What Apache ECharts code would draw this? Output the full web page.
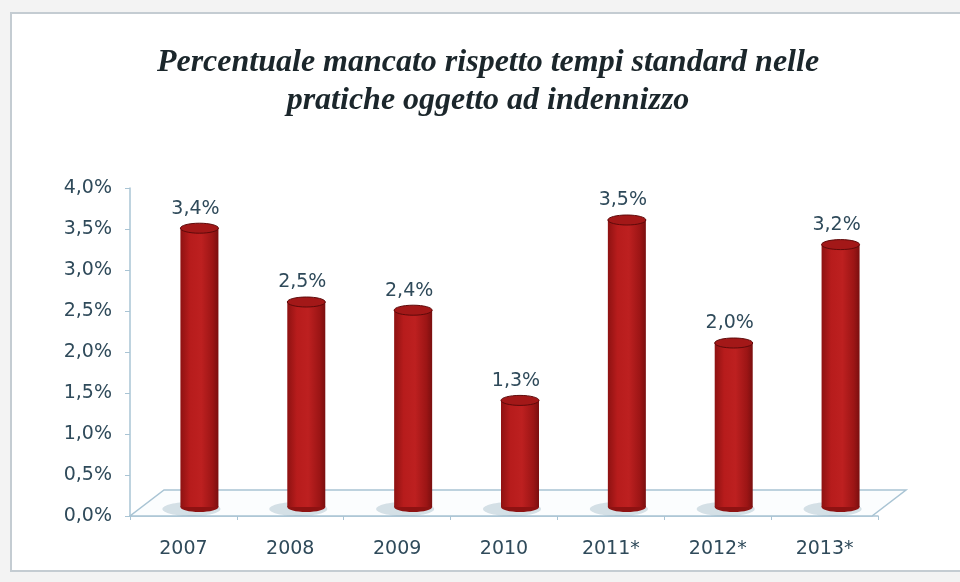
<!DOCTYPE html>
<html>
<head>
<meta charset="utf-8">
<script src="https://cdn.jsdelivr.net/npm/echarts@6/dist/echarts.min.js"></script>
<style>
  html, body { margin: 0; padding: 0; background: #f3f3f3; }
  #chart { width: 960px; height: 582px; }
</style>
</head>
<body>
<div id="chart"></div>
<script>
// dati
const categories = ['2007', '2008', '2009', '2010', '2011*', '2012*', '2013*']
const values = [3.4, 2.5, 2.4, 1.3, 3.5, 2.0, 3.2]
const yTicks = { min: 0, max: 4, interval: 0.5 }
const titleLines = ['Percentuale mancato rispetto tempi standard nelle', 'pratiche oggetto ad indennizzo']

// prospettiva del "pavimento" 3D
const DEPTH_X = 34
const DEPTH_Y = -26
const BAR_R = 19

const fmt = (v) => v.toFixed(1).replace('.', ',') + '%'
const textColor = '#2f4a5a'
const lineColor = '#a9c4d4'
const labelFont = '"DejaVu Sans", Verdana, sans-serif'

const chart = echarts.init(document.getElementById('chart'), null, { renderer: 'canvas' })

// pavimento disegnato dal sistema di coordinate
const renderFloor = (params, api) => {
  const cs = params.coordSys
  const y0 = api.coord([0, 0])[1]
  const x0 = cs.x
  const x1 = cs.x + cs.width - 6
  return {
    type: 'polygon',
    shape: {
      points: [
        [x0, y0],
        [x1, y0],
        [x1 + DEPTH_X, y0 + DEPTH_Y],
        [x0 + DEPTH_X, y0 + DEPTH_Y],
      ],
    },
    style: { fill: '#fbfdfe', stroke: lineColor, lineWidth: 1.5 },
    silent: true,
  }
}

// cilindri
const renderCylinder = (params, api) => {
  const idx = api.value(0)
  const val = api.value(1)
  const base = api.coord([idx, 0])
  const top = api.coord([idx, val])
  const cx = base[0] + DEPTH_X / 2 - 1
  const by = base[1] + DEPTH_Y / 2 + 4
  const ty = top[1] + DEPTH_Y / 2 + 4
  const grad = new echarts.graphic.LinearGradient(0, 0, 1, 0, [
    { offset: 0, color: '#8e1212' },
    { offset: 0.25, color: '#b71c1c' },
    { offset: 0.55, color: '#bd2020' },
    { offset: 0.85, color: '#9c1515' },
    { offset: 1, color: '#7a0f0f' },
  ])
  return {
    type: 'group',
    children: [
      {
        type: 'ellipse',
        shape: { cx: cx - 8, cy: by + 2, rx: BAR_R + 10, ry: 7 },
        style: { fill: 'rgba(140,168,185,0.35)' },
      },
      {
        type: 'ellipse',
        shape: { cx: cx, cy: by, rx: BAR_R, ry: 5 },
        style: { fill: '#8e1212' },
      },
      {
        type: 'rect',
        shape: { x: cx - BAR_R, y: ty, width: BAR_R * 2, height: by - ty },
        style: { fill: grad },
      },
      {
        type: 'ellipse',
        shape: { cx: cx, cy: ty, rx: BAR_R, ry: 5 },
        style: { fill: '#a31818', stroke: '#5e0a0a', lineWidth: 1 },
      },
      {
        type: 'text',
        style: {
          x: cx - 4,
          y: ty - 10,
          text: fmt(val),
          fill: textColor,
          font: '19px ' + labelFont,
          align: 'center',
          verticalAlign: 'bottom',
        },
      },
    ],
  }
}

const titleStyle = {
  fill: '#1b262b',
  font: 'italic bold 32px "Liberation Serif", "DejaVu Serif", serif',
}

const option = {
  backgroundColor: 'transparent',
  animation: false,
  graphic: [
    {
      type: 'rect',
      left: 10,
      top: 12,
      shape: { width: 1000, height: 558 },
      style: { fill: '#ffffff', stroke: '#c4ccd2', lineWidth: 2 },
      z: -10,
    },
    {
      type: 'text',
      x: 488,
      y: 47,
      style: Object.assign({ text: titleLines[0], align: 'center' }, titleStyle),
    },
    {
      type: 'text',
      x: 488,
      y: 85,
      style: Object.assign({ text: titleLines[1], align: 'center' }, titleStyle),
    },
  ],
  grid: { left: 130, right: 82, top: 188, bottom: 66 },
  xAxis: {
    type: 'category',
    data: categories,
    axisLine: { lineStyle: { color: lineColor, width: 1.5 } },
    axisTick: { show: true, length: 4, lineStyle: { color: lineColor } },
    axisLabel: {
      color: textColor,
      fontFamily: labelFont,
      fontSize: 19,
      margin: 24,
    },
  },
  yAxis: {
    type: 'value',
    min: yTicks.min,
    max: yTicks.max,
    interval: yTicks.interval,
    axisLine: { show: true, lineStyle: { color: lineColor, width: 1.5 } },
    axisTick: { show: true, length: 5, lineStyle: { color: lineColor } },
    splitLine: { show: false },
    axisLabel: {
      color: textColor,
      fontFamily: labelFont,
      fontSize: 19,
      margin: 18,
      formatter: fmt,
    },
  },
  series: [
    {
      type: 'custom',
      renderItem: renderFloor,
      data: [[0, 0]],
      z: 1,
      silent: true,
    },
    {
      type: 'custom',
      renderItem: renderCylinder,
      data: values.map((v, i) => [i, v]),
      encode: { x: 0, y: 1 },
      z: 2,
    },
  ],
}

chart.setOption(option)
</script>
</body>
</html>
